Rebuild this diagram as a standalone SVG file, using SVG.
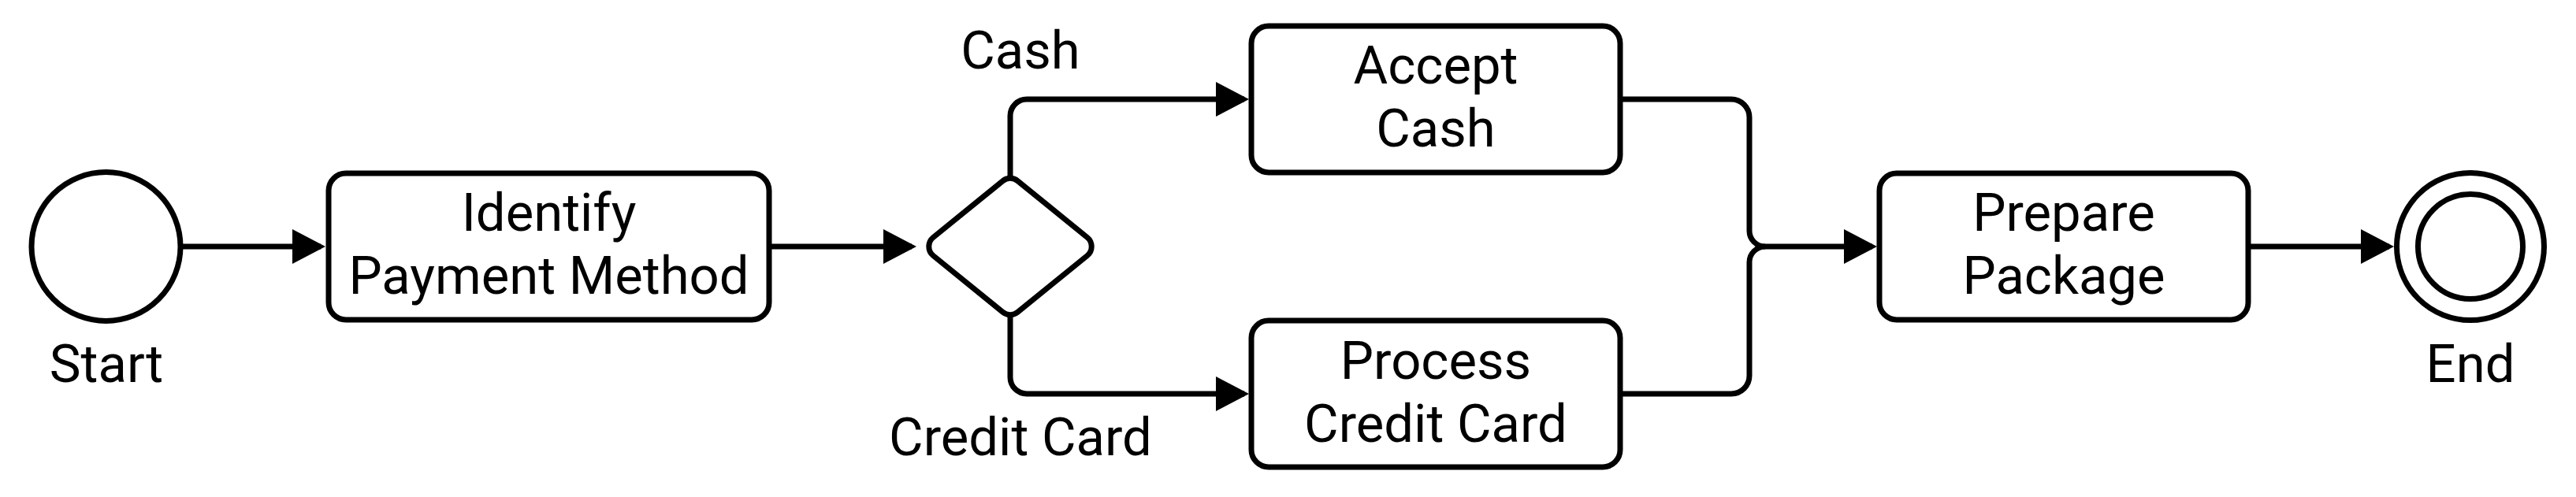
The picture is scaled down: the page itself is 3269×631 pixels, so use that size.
<svg xmlns="http://www.w3.org/2000/svg" width="3269" height="631" viewBox="0 0 3269 631">
<style>
.shape{fill:#fff;stroke:#000;stroke-width:7}
.conn{fill:none;stroke:#000;stroke-width:7}
text{font-family:Roboto,"Liberation Sans",sans-serif;font-size:67px;fill:#000;text-anchor:middle}
</style>
<defs>
<marker id="arr" markerUnits="userSpaceOnUse" markerWidth="42" markerHeight="44" refX="36" refY="22" orient="auto" overflow="visible">
<path d="M0,0 L42,22 L0,44 Z" fill="#000"/>
</marker>
</defs>
<rect width="3269" height="631" fill="#fff"/>
<g id="connectors">
<path class="conn" d="M229,313 H407" marker-end="url(#arr)"/>
<path class="conn" d="M976,313 H1157" marker-end="url(#arr)"/>
<path class="conn" d="M1282,226 V147 A21,21 0 0 1 1303,126 H1579" marker-end="url(#arr)"/>
<path class="conn" d="M1282,399 V479 A21,21 0 0 0 1303,500 H1579" marker-end="url(#arr)"/>
<path class="conn" d="M2056,126 H2197 A23,23 0 0 1 2220,149 V293 A20,20 0 0 0 2240,313 H2376" marker-end="url(#arr)"/>
<path class="conn" d="M2056,500 H2197 A23,23 0 0 0 2220,477 V333 A20,20 0 0 1 2240,313"/>
<path class="conn" d="M2853,313 H3032" marker-end="url(#arr)"/>
<text x="1295" y="87">Cash</text>
<text x="1295" y="578">Credit Card</text>
</g>
<g id="start">
<circle class="shape" cx="134.5" cy="313" r="94.5"/>
<text x="135" y="485">Start</text>
</g>
<g id="identify">
<rect class="shape" x="417" y="220" width="559" height="186" rx="22"/>
<text x="696.5" y="293">Identify</text>
<text x="696.5" y="373">Payment Method</text>
</g>
<g id="gateway">
<path class="shape" d="M1184.33,301.35 L1272.54,229.69 A15,15 0 0 1 1291.46,229.69 L1379.67,301.35 A15,15 0 0 1 1379.67,324.65 L1291.46,396.31 A15,15 0 0 1 1272.54,396.31 L1184.33,324.65 A15,15 0 0 1 1184.33,301.35 Z"/>
</g>
<g id="accept-cash">
<rect class="shape" x="1588" y="33" width="468" height="186" rx="22"/>
<text x="1822" y="106">Accept</text>
<text x="1822" y="186">Cash</text>
</g>
<g id="process-credit-card">
<rect class="shape" x="1588" y="407" width="468" height="186" rx="22"/>
<text x="1822" y="481">Process</text>
<text x="1822" y="561">Credit Card</text>
</g>
<g id="prepare-package">
<rect class="shape" x="2385" y="220" width="468" height="186" rx="22"/>
<text x="2619" y="293">Prepare</text>
<text x="2619" y="373">Package</text>
</g>
<g id="end">
<circle class="shape" cx="3135" cy="313" r="93.5"/>
<circle class="shape" cx="3135" cy="313" r="66.5"/>
<text x="3135" y="485">End</text>
</g>
</svg>
